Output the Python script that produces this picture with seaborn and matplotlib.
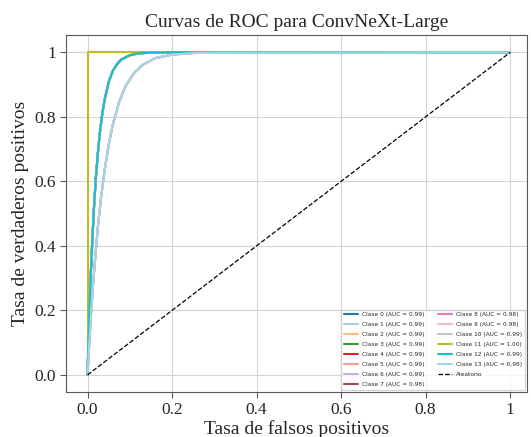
import numpy as np
import matplotlib
matplotlib.use("Agg")
import matplotlib.pyplot as plt
import seaborn as sns

# AUC per class as printed in the legend
class_auc = [0.99, 0.99, 0.99, 0.99, 0.99, 0.99, 0.99, 0.98,
             0.98, 0.98, 0.99, 1.00, 0.99, 0.98]

# curve for the AUC = 0.99 classes
fpr_99 = [0, 0.002, 0.005, 0.008, 0.012, 0.016, 0.02, 0.025, 0.03, 0.035, 0.04,
          0.05, 0.06, 0.07, 0.08, 0.1, 0.12, 0.15, 0.2, 0.3, 1.0]
tpr_99 = [0, 0.09, 0.21, 0.32, 0.435, 0.535, 0.615, 0.695, 0.76, 0.81, 0.85,
          0.908, 0.943, 0.964, 0.978, 0.991, 0.997, 0.999, 1.0, 1.0, 1.0]

# curve for the AUC = 0.98 classes
fpr_98 = [0, 0.004, 0.008, 0.012, 0.018, 0.025, 0.032, 0.04, 0.05, 0.06, 0.075,
          0.09, 0.11, 0.13, 0.16, 0.2, 0.25, 0.3, 1.0]
tpr_98 = [0, 0.095, 0.18, 0.26, 0.36, 0.465, 0.55, 0.63, 0.713, 0.777, 0.847,
          0.895, 0.936, 0.961, 0.982, 0.993, 0.998, 0.999, 1.0]

# AUC = 1.00 (perfect classifier)
fpr_100 = [0, 0, 1.0]
tpr_100 = [0, 1.0, 1.0]

tick_vals = [0, 0.2, 0.4, 0.6, 0.8, 1.0]
tick_labels = ["0.0", "0.2", "0.4", "0.6", "0.8", "1"]

sns.set_style("whitegrid", {
    "axes.edgecolor": "0.35",
    "grid.color": "0.83",
    "xtick.bottom": True,
    "ytick.left": True,
})
plt.rcParams["font.family"] = "serif"
plt.rcParams["font.serif"] = ["Liberation Serif", "DejaVu Serif"]

fig = plt.figure(figsize=(5.31, 4.37), dpi=100)
ax = fig.add_axes([0.125, 0.103, 0.8675, 0.817])

colors = plt.cm.tab20(np.linspace(0, 1, len(class_auc)))
curves = {0.99: (fpr_99, tpr_99), 0.98: (fpr_98, tpr_98), 1.00: (fpr_100, tpr_100)}

for i, auc in enumerate(class_auc):
    fpr, tpr = curves[auc]
    sns.lineplot(x=fpr, y=tpr, ax=ax, color=colors[i], lw=1.5,
                 estimator=None, sort=False,
                 label="Clase %d (AUC = %.2f)" % (i, auc))

sns.lineplot(x=[0, 1], y=[0, 1], ax=ax, color="black", lw=0.9, linestyle="--",
             estimator=None, sort=False, label="Aleatorio")

ax.set_xlim(-0.05, 1.04)
ax.set_ylim(-0.053, 1.054)
ax.set_xticks(tick_vals)
ax.set_xticklabels(tick_labels)
ax.set_yticks(tick_vals)
ax.set_yticklabels(tick_labels)
ax.tick_params(labelsize=12.5, color="0.35", length=4)
ax.set_xlabel("Tasa de falsos positivos", fontsize=14, labelpad=1)
ax.set_ylabel("Tasa de verdaderos positivos", fontsize=14)
ax.set_title("Curvas de ROC para ConvNeXt-Large", fontsize=14)

ax.legend(loc="lower right", ncol=2, prop={"family": "DejaVu Sans", "size": 4.2},
          handlelength=2.4, columnspacing=2.2, labelspacing=0.85,
          borderaxespad=0.4)

fig.savefig("out.png", dpi=100)
